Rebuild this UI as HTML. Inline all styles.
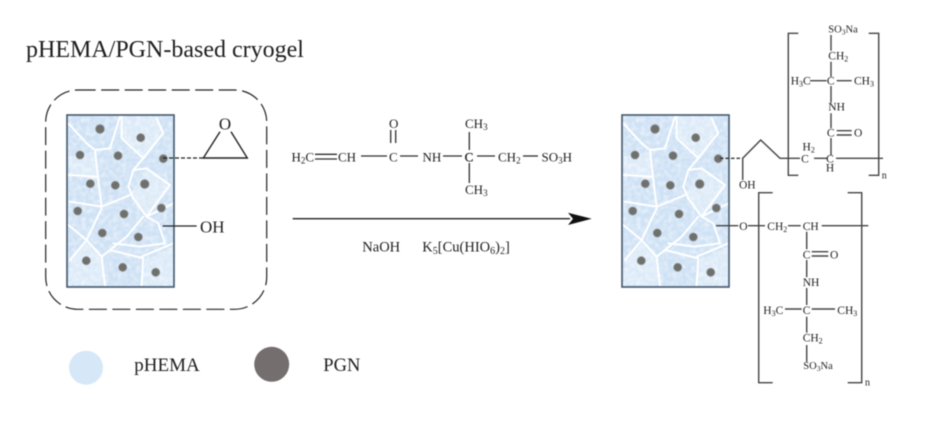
<!DOCTYPE html>
<html>
<head>
<meta charset="utf-8">
<style>
html,body{margin:0;padding:0;background:#fff;width:937px;height:426px;overflow:hidden}
svg{display:block;filter:blur(.45px)}
text{font-family:"Liberation Serif","Times New Roman",serif;fill:#1e1e1e}
.a{font-size:13px}
.b{font-size:11.5px}
.l{stroke:#2e2e2e;stroke-width:1.3;fill:none}
.g{stroke:#444;stroke-width:1.4;fill:none}
</style>
</head>
<body>
<svg width="937" height="426" viewBox="0 0 937 426" xmlns="http://www.w3.org/2000/svg">
<defs>
<filter id="tex" x="0" y="0" width="100%" height="100%">
<feTurbulence type="fractalNoise" baseFrequency="0.22" numOctaves="3" seed="4"/>
<feColorMatrix type="matrix" values="0 0 0 0 1  0 0 0 0 1  0 0 0 0 1  1.6 0 0 0 -0.62"/>
</filter>
<filter id="soft"><feGaussianBlur stdDeviation="0.8"/></filter>
<g id="block">
<rect x="67" y="115" width="107" height="172" fill="#cfe2f5"/>
<g transform="translate(30 80) scale(.3333)" fill="#e2eefa" opacity=".75">
<path d="M115 230 L195 215 L205 300 L120 285Z"/>
<path d="M350 265 L420 315 L350 410 L300 345Z"/>
<path d="M120 540 L170 480 L215 530 L225 615 L115 615Z"/>
<path d="M345 540 L430 500 L430 615 L335 615Z"/>
<path d="M280 110 L380 110 L400 160 L340 235 L275 175Z"/>
</g>
<rect x="67" y="115" width="107" height="172" filter="url(#tex)" opacity=".7"/>
<g transform="translate(30 80) scale(.3333)" fill="none" stroke="#fff" stroke-width="6" stroke-linejoin="round" stroke-linecap="round" filter="url(#soft)">
<path d="M115 130 L170 190 L195 210 L240 205 L270 110"/>
<path d="M275 110 L275 175 L340 235"/>
<path d="M380 115 L400 160 L375 190 L340 235 L310 270 L295 320 L310 355 L350 410 L385 430 L405 490 L330 500 L250 490"/>
<path d="M195 210 L205 300 L215 380"/>
<path d="M115 285 L200 290"/>
<path d="M310 270 L350 265 L420 315 L350 410"/>
<path d="M215 380 L300 345"/>
<path d="M215 385 L170 480 L120 540"/>
<path d="M115 435 L170 480 L215 530 L225 615"/>
<path d="M240 510 L340 535 L335 615"/>
<path d="M340 410 L290 470 L240 510 L215 530"/>
<path d="M350 410 L430 370"/>
<path d="M120 365 L215 380"/>
<path d="M335 530 L430 490"/>
</g>
<rect x="67" y="115" width="107" height="172" fill="none" stroke="#44566b" stroke-width="1.6"/>
<g fill="#6f6f6c" stroke="#8a8f90" stroke-width=".8">
<circle cx="100" cy="129" r="4.300"/>
<circle cx="140.700" cy="137.700" r="4"/>
<circle cx="80" cy="155" r="4"/>
<circle cx="118" cy="155.700" r="4"/>
<circle cx="163.300" cy="158.700" r="4"/>
<circle cx="90.300" cy="183.700" r="4"/>
<circle cx="115.300" cy="185.300" r="4"/>
<circle cx="144.700" cy="184" r="4.300"/>
<circle cx="77.700" cy="211" r="4"/>
<circle cx="161.300" cy="208" r="4"/>
<circle cx="124" cy="214" r="4"/>
<circle cx="102.300" cy="233" r="4"/>
<circle cx="138.300" cy="237" r="4"/>
<circle cx="86.300" cy="260.700" r="4"/>
<circle cx="122.700" cy="267.300" r="4"/>
<circle cx="155.700" cy="272.300" r="4"/>
</g>
</g>
</defs>

<text x="26" y="57" font-size="24">pHEMA/PGN-based cryogel</text>

<rect x="45.700" y="90" width="221" height="219.300" rx="32" ry="32" fill="none" stroke="#222" stroke-width="1.2" stroke-dasharray="18 5.500"/>
<use href="#block"/>
<path d="M163 158 H203" stroke="#222" stroke-width="1.3" stroke-dasharray="4 2" fill="none"/>
<path d="M220 131.700 L203.300 158 H247.300 L231 131.700" stroke="#222" stroke-width="1.4" fill="none"/>
<text x="225" y="129.500" font-size="17" text-anchor="middle">O</text>
<path d="M162.700 226 H196.700" stroke="#222" stroke-width="1.3"/>
<text x="200" y="232.300" font-size="17">OH</text>

<!-- monomer -->
<text x="291.500" y="161.700" class="a">H<tspan font-size="9" dy="2">2</tspan><tspan dy="-2">C</tspan></text>
<path class="l" d="M315 154.300 H337 M315 159 H337"/>
<text x="338" y="161.700" class="a">CH</text>
<path class="l" d="M361 156 H387"/>
<text x="393.300" y="161.700" class="a" text-anchor="middle">C</text>
<path class="l" d="M390.700 130 V143 M395.700 130 V143"/>
<text x="393.700" y="128" class="a" text-anchor="middle">O</text>
<path class="l" d="M400 156 H418"/>
<text x="422.500" y="161.700" class="a">NH</text>
<path class="l" d="M443 156 H462"/>
<text x="469" y="161.700" class="a" text-anchor="middle" stroke="#2a2a2a" stroke-width=".3">C</text>
<path class="l" d="M469.300 132 V150 M469.300 163 V183"/>
<text x="465" y="128" class="a">CH<tspan font-size="9" dy="2">3</tspan></text>
<text x="465" y="194" class="a">CH<tspan font-size="9" dy="2">3</tspan></text>
<path class="l" d="M477 156 H495"/>
<text x="498" y="161.700" class="a">CH<tspan font-size="9" dy="2">2</tspan></text>
<path class="l" d="M523 156 H538"/>
<text x="541.500" y="161.700" class="a">SO<tspan font-size="9" dy="2">3</tspan><tspan dy="-2">H</tspan></text>

<!-- arrow -->
<path d="M292.700 218.700 H570" stroke="#222" stroke-width="1.4"/>
<path d="M568 212.700 L591.700 218.700 L568 225 L573 218.700Z" fill="#111"/>
<text x="362.300" y="251.700" font-size="14.500">NaOH</text>
<text x="422.300" y="251.700" font-size="14.500">K<tspan font-size="10" dy="2.500">5</tspan><tspan dy="-2.500">[Cu(HIO</tspan><tspan font-size="10" dy="2.500">6</tspan><tspan dy="-2.500">)</tspan><tspan font-size="10" dy="2.500">2</tspan><tspan dy="-2.500">]</tspan></text>

<!-- right block -->
<use href="#block" transform="translate(555 0)"/>

<!-- upper chain -->
<path d="M720 158.300 H742.700" stroke="#333" stroke-width="1.3" stroke-dasharray="3.500 2" fill="none"/>
<path class="g" d="M742.700 158.300 L760.700 140 L780 158.300 H800"/>
<path class="g" d="M742.700 158.300 V180"/>
<text x="739" y="188.300" class="b">OH</text>
<text x="805" y="162.700" class="b" text-anchor="middle">C</text>
<text x="802.500" y="150.700" class="b">H<tspan font-size="8" dy="2">2</tspan></text>
<path class="g" d="M814 158.300 H827 M836 158.300 H883"/>
<text x="830" y="162.700" class="b" text-anchor="middle">C</text>
<text x="830" y="171.700" class="b" text-anchor="middle">H</text>
<path class="g" d="M798.300 33.300 H788.300 V175.300 H798.300 M868.700 33.300 H878.700 V175.300 H868.700"/>
<text x="881.700" y="178.300" font-size="10">n</text>
<path class="g" d="M831 35 V50.700 M831 61.700 V76.700 M831 86 V102.700 M831 113.300 V128.300 M831 138 V155"/>
<text x="828.300" y="32.700" font-size="10.500">SO<tspan font-size="7.500" dy="2">3</tspan><tspan dy="-2">Na</tspan></text>
<text x="828.300" y="59.300" class="b">CH<tspan font-size="8" dy="2">2</tspan></text>
<text x="790.700" y="84.300" class="b">H<tspan font-size="8" dy="2">3</tspan><tspan dy="-2">C</tspan></text>
<path class="g" d="M810 80.700 H826.700 M836.700 80.700 H851.700"/>
<text x="830.700" y="84.300" class="b" text-anchor="middle">C</text>
<text x="854" y="84.300" class="b">CH<tspan font-size="8" dy="2">3</tspan></text>
<text x="828.300" y="110.700" class="b">NH</text>
<text x="830.700" y="136.700" class="b" text-anchor="middle">C</text>
<path class="g" d="M836.700 130.700 H851.700 M836.700 135 H851.700"/>
<text x="854" y="136.700" class="b">O</text>

<!-- lower chain -->
<path class="g" d="M716 225.700 H738.300 M748 225.700 H765 M788 225.700 H800.700 M821.700 225.700 H868.300"/>
<text x="739.300" y="230" class="b">O</text>
<text x="767.300" y="230" class="b">CH<tspan font-size="8" dy="2">2</tspan></text>
<text x="802.700" y="230" class="b">CH</text>
<path class="g" d="M772.700 192.700 H758.700 V382.700 H772.700 M847.700 192.700 H861.700 V382.700 H847.700"/>
<text x="865" y="385.700" font-size="10">n</text>
<path class="g" d="M806.700 231.700 V249.300 M806.700 260 V277.300 M806.700 288 V305 M806.700 316.700 V332.700 M806.700 345 V361.700"/>
<text x="802.700" y="258.300" class="b">C</text>
<path class="g" d="M811.700 251.700 H828.300 M811.700 256 H828.300"/>
<text x="830" y="258.300" class="b">O</text>
<text x="802.700" y="286" class="b">NH</text>
<text x="763.300" y="314" class="b">H<tspan font-size="8" dy="2">3</tspan><tspan dy="-2">C</tspan></text>
<path class="g" d="M785 309 H801.700 M811.700 309 H835"/>
<text x="802.700" y="314" class="b">C</text>
<text x="837.300" y="314" class="b">CH<tspan font-size="8" dy="2">3</tspan></text>
<text x="802.700" y="341.700" class="b">CH<tspan font-size="8" dy="2">2</tspan></text>
<text x="803.300" y="369" font-size="10.500">SO<tspan font-size="7.500" dy="2">3</tspan><tspan dy="-2">Na</tspan></text>

<!-- legend -->
<circle cx="86" cy="367.700" r="17" fill="#d6e7f8"/>
<circle cx="271.700" cy="364.300" r="17.500" fill="#746e6e"/>
<text x="134.300" y="371" font-size="19">pHEMA</text>
<text x="323.300" y="371" font-size="18.500">PGN</text>
</svg>
</body>
</html>
